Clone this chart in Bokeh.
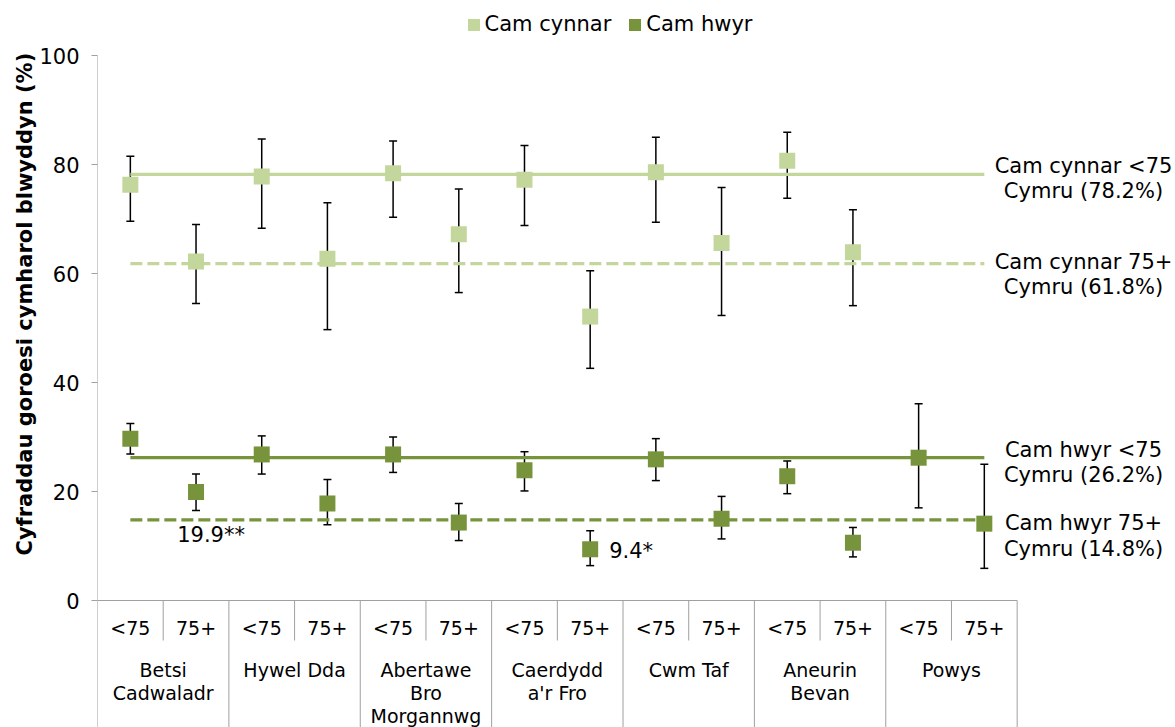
from bokeh.plotting import figure
from bokeh.models import (Range1d, FixedTicker, ColumnDataSource, Whisker, TeeHead,
                          Legend, LegendItem, Title)
from bokeh.core.properties import value
from bokeh.embed import file_html
from bokeh.resources import INLINE

# ---------------- data ----------------
groups = ["Betsi\nCadwaladr", "Hywel Dda", "Abertawe\nBro\nMorgannwg",
          "Caerdydd\na'r Fro", "Cwm Taf", "Aneurin\nBevan", "Powys"]
ages = ["<75", "75+"]

# Cam cynnar (early stage), one value per (group, age); None = no estimate
early = [76.3, 62.2, 77.8, 62.7, 78.4, 67.2, 77.2, 52.1, 78.6, 65.6, 80.7, 63.9, None, None]
early_lo = [69.6, 54.5, 68.3, 49.7, 70.3, 56.5, 68.8, 42.6, 69.4, 52.3, 73.8, 54.1, None, None]
early_hi = [81.5, 69.0, 84.7, 73.0, 84.3, 75.5, 83.5, 60.5, 85.0, 75.8, 85.9, 71.7, None, None]

# Cam hwyr (late stage)
late = [29.7, 19.9, 26.8, 17.8, 26.8, 14.3, 23.9, 9.4, 25.9, 15.0, 22.8, 10.6, 26.2, 14.1]
late_lo = [26.9, 16.5, 23.2, 13.9, 23.5, 11.0, 20.1, 6.4, 22.0, 11.3, 19.6, 8.0, 17.0, 5.9]
late_hi = [32.5, 23.2, 30.2, 22.2, 30.0, 17.8, 27.3, 12.8, 29.7, 19.1, 25.6, 13.4, 36.1, 25.0]
late_sig = ["", "**", "", "", "", "", "", "*", "", "", "", "", "", ""]

# Wales (Cymru) reference values for <75 and 75+
wales_early = [78.2, 61.8]
wales_late = [26.2, 14.8]

y_ticks = [0, 20, 40, 60, 80, 100]
stage_names = ["Cam cynnar", "Cam hwyr"]
y_title = "Cyfraddau goroesi cymharol blwyddyn (%)"

# ---------------- styling / layout ----------------
LIGHT = "#C3D69B"
DARK = "#77933C"
GRID = "#A0A0A0"
FONT = "DejaVu Sans"

W, H = 1175, 727
LEFT = 97
PX_PER_CAT = 65.69
PX_PER_UNIT = 5.45
TOP_GAP = 55            # px from top of figure to the 100 line
y_end = 100 + TOP_GAP / PX_PER_UNIT
y_start = y_end - H / PX_PER_UNIT
x_end = (W - LEFT) / PX_PER_CAT
px = 1.0 / PX_PER_UNIT   # one pixel in y data units

n_groups = len(groups)
n_cat = n_groups * len(ages)
xs = [g * len(ages) + a + 0.5 for g in range(n_groups) for a in range(len(ages))]
age_labels = [ages[a] for g in range(n_groups) for a in range(len(ages))]
group_x = [g * len(ages) + len(ages) / 2 for g in range(n_groups)]

p = figure(width=W, height=H, x_range=Range1d(0, x_end), y_range=Range1d(y_start, y_end),
           output_backend="svg", toolbar_location=None, x_axis_location=None,
           min_border_left=LEFT, min_border_right=0, min_border_top=0, min_border_bottom=0)
p.outline_line_color = None
p.grid.visible = False
p.background_fill_color = "white"

ax = p.yaxis[0]
ax.ticker = FixedTicker(ticks=y_ticks)
ax.axis_line_color = None
ax.major_tick_line_color = GRID
ax.major_tick_out = 6
ax.major_tick_in = 0
ax.minor_tick_line_color = None
ax.major_label_text_font = FONT
ax.major_label_text_font_size = "21px"
ax.major_label_text_color = "black"
ax.major_label_standoff = 12

t = Title(text=y_title, align="left", offset=172, text_font=FONT, text_font_size="21px",
          text_font_style="bold", text_color="black", standoff=0)
p.add_layout(t, "left")

# ---------- category table ----------
p.segment(x0=[0], y0=[y_start], x1=[0], y1=[100], line_color=GRID, line_width=1)
p.segment(x0=[0], y0=[0], x1=[n_cat], y1=[0], line_color=GRID, line_width=1)
grp_bounds = [g * len(ages) for g in range(1, n_groups + 1)]
p.segment(x0=grp_bounds, y0=[0] * len(grp_bounds), x1=grp_bounds,
          y1=[y_start] * len(grp_bounds), line_color=GRID, line_width=1)
sub_bounds = [g * len(ages) + 1 for g in range(n_groups)]
p.segment(x0=sub_bounds, y0=[0] * len(sub_bounds), x1=sub_bounds,
          y1=[-40 * px] * len(sub_bounds), line_color=GRID, line_width=1)

p.text(x=xs, y=[0] * n_cat, text=age_labels, y_offset=27, text_align="center",
       text_baseline="middle", text_font=value(FONT), text_font_size="19px", text_color="black")
p.text(x=group_x, y=[0] * n_groups, text=groups, y_offset=58, text_align="center",
       text_baseline="top", text_font=value(FONT), text_font_size="19px",
       text_line_height=1.05, text_color="black")

# ---------- Wales reference lines ----------
x_first, x_last = xs[0], xs[-1]
for v, col, dash in [(wales_early[0], LIGHT, "solid"), (wales_early[1], LIGHT, "12 5"),
                     (wales_late[0], DARK, "solid"), (wales_late[1], DARK, "12 5")]:
    p.line(x=[x_first, x_last], y=[v, v], line_color=col, line_width=3.2, line_dash=dash)

ref_text = []
ref_vals = []
for stage, vals in zip(stage_names, [wales_early, wales_late]):
    for age, v in zip(["<75", "75+"], vals):
        ref_text.append(f"{stage} {age}\nCymru ({v}%)")
        ref_vals.append(v)
p.text(x=[15.01] * 4, y=ref_vals, text=ref_text, y_offset=[4, 11, 5, 16],
       text_align="center", text_baseline="middle", text_font=value(FONT),
       text_font_size="21px", text_line_height=1.06, text_color="black")

# ---------- error bars and points ----------
def series(vals, lo, hi):
    idx = [i for i, v in enumerate(vals) if v is not None]
    return ColumnDataSource(dict(x=[xs[i] for i in idx], y=[vals[i] for i in idx],
                                 lo=[lo[i] for i in idx], hi=[hi[i] for i in idx]))

src_e = series(early, early_lo, early_hi)
src_l = series(late, late_lo, late_hi)
for src in (src_e, src_l):
    w = Whisker(source=src, base="x", lower="lo", upper="hi", line_color="black", line_width=1.5,
                upper_head=TeeHead(size=8, line_color="black", line_width=1.5),
                lower_head=TeeHead(size=8, line_color="black", line_width=1.5),
                level="underlay")
    p.add_layout(w)

r1 = p.rect(x="x", y="y", source=src_e, width=16, height=16, width_units="screen",
            height_units="screen", fill_color=LIGHT, line_color=None)
r2 = p.rect(x="x", y="y", source=src_l, width=16, height=16, width_units="screen",
            height_units="screen", fill_color=DARK, line_color=None)

# significance labels
i1 = late_sig.index("**")
i2 = late_sig.index("*")
p.text(x=[xs[i1]], y=[late[i1]], text=[f"{late[i1]}{late_sig[i1]}"], x_offset=15, y_offset=43,
       text_align="center", text_baseline="middle", text_font=value(FONT),
       text_font_size="21px", text_color="black")
p.text(x=[xs[i2]], y=[late[i2]], text=[f"{late[i2]}{late_sig[i2]}"], x_offset=19, y_offset=2,
       text_align="left", text_baseline="middle", text_font=value(FONT),
       text_font_size="21px", text_color="black")

# ---------- legend ----------
legend = Legend(items=[LegendItem(label=stage_names[0], renderers=[r1]),
                       LegendItem(label=stage_names[1], renderers=[r2])],
                orientation="horizontal", location=(368.5, 691), glyph_width=15, glyph_height=15,
                label_standoff=4, spacing=16, padding=0, margin=0, border_line_color=None,
                background_fill_alpha=0, label_text_font=FONT, label_text_font_size="21px",
                label_text_color="black")
p.add_layout(legend)

open("out.html", "w").write(file_html(p, INLINE))
